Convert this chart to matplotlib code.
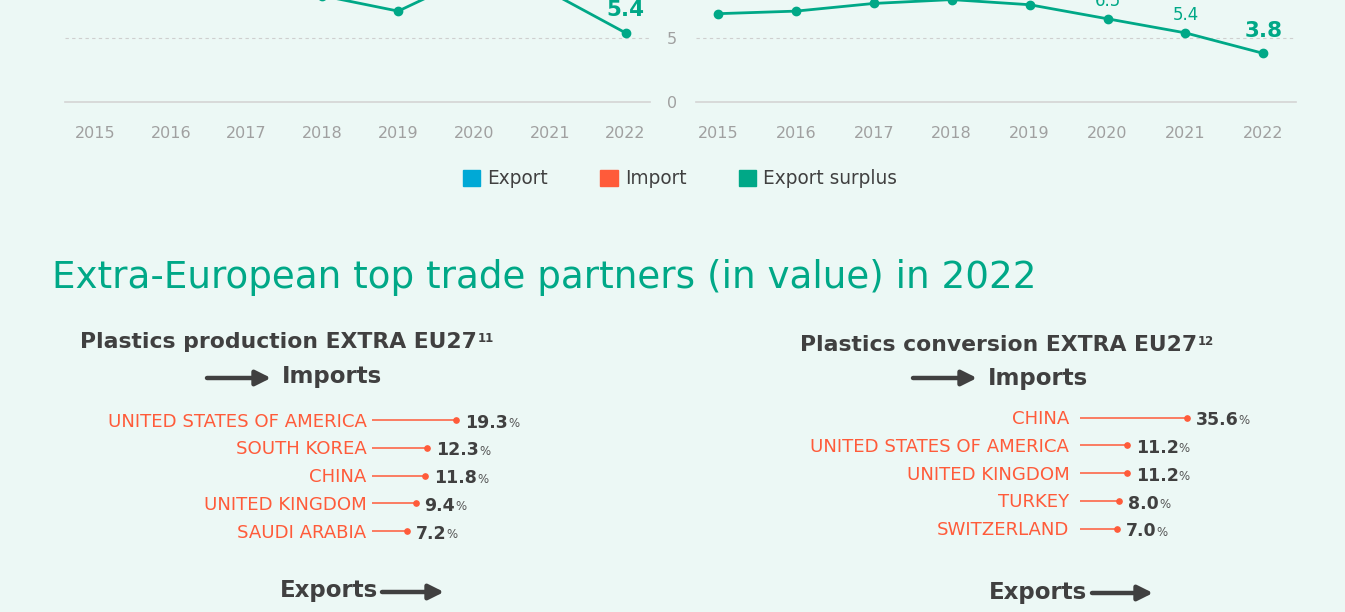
"""
Plastics trade infographic: export surplus lines and top extra-EU partners (2022).
"""

import numpy as np
import matplotlib.pyplot as plt
from matplotlib.patches import Patch, FancyArrowPatch

W, H = 1345, 612
BG = '#ecf8f5'
GREEN = '#00a887'
ORANGE = '#ff5b3a'
BLUE = '#00a9d6'
DARK = '#404040'
GREY = '#a0a0a0'

plt.rcParams['font.family'] = ['DejaVu Sans']

# ---------------------------------------------------------
# data (hidden points estimated)
# ---------------------------------------------------------
years = [2015, 2016, 2017, 2018, 2019, 2020, 2021, 2022]
prod_surplus = [8.7, 9.0, 9.6, 8.3, 7.1, 9.9, 8.6, 5.4]
conv_surplus = [6.9, 7.1, 7.7, 8.0, 7.6, 6.5, 5.4, 3.8]
y_ticks = [0, 5]

legend_labels = ['Export', 'Import', 'Export surplus']
legend_colors = [BLUE, ORANGE, GREEN]

prod_countries = ['UNITED STATES OF AMERICA', 'SOUTH KOREA', 'CHINA',
                  'UNITED KINGDOM', 'SAUDI ARABIA']
prod_shares = [19.3, 12.3, 11.8, 9.4, 7.2]
conv_countries = ['CHINA', 'UNITED STATES OF AMERICA', 'UNITED KINGDOM',
                  'TURKEY', 'SWITZERLAND']
conv_shares = [35.6, 11.2, 11.2, 8.0, 7.0]

fig = plt.figure(figsize=(W / 100, H / 100), dpi=100, facecolor=BG)


def px_axes(x0, y0, x1, y1):
    # axes from a pixel box (y measured from the top)
    return fig.add_axes([x0 / W, 1 - y1 / H, (x1 - x0) / W, (y1 - y0) / H])


ov = px_axes(0, 0, W, H)
ov.set_xlim(0, W)
ov.set_ylim(H, 0)
ov.axis('off')


def size_for(s, width, **kw):
    # font size that gives a text the wanted pixel width
    t = ov.text(0, 0, s, fontsize=10, **kw)
    w = t.get_window_extent(fig.canvas.get_renderer()).width
    t.remove()
    return 10 * width / w


TITLE_FS = size_for('Extra-European top trade partners (in value) in 2022', 983)
HEAD_FS = size_for('Plastics production EXTRA EU27', 396, weight='bold')
FLOW_FS = size_for('Imports', 100, weight='bold')
COUNTRY_FS = size_for('UNITED STATES OF AMERICA', 259)
VALUE_FS = size_for('35.6', 43, weight='bold')
LEGEND_FS = size_for('Export', 61)
TICK_FS = 11.5

# ---------------------------------------------------------
# 1. Export surplus lines
# ---------------------------------------------------------
PX_PER_UNIT = 12.8
TOP, BASE = -150, 102


def line_chart(x0, x1, x_first, x_step, values, show_y):
    ax = px_axes(x0, TOP, x1, BASE)
    ax.set_facecolor('none')
    for s in ax.spines.values():
        s.set_visible(False)
    ax.set_xlim(years[0] - (x_first - x0) / x_step, years[0] + (x1 - x_first) / x_step)
    ax.set_ylim(0, (BASE - TOP) / PX_PER_UNIT)
    ax.axhline(0, color='#d4d4d4', lw=1.2, clip_on=False, zorder=1)
    ax.axhline(5, color='#cfcfcf', lw=0.8, ls=(0, (3, 3)), zorder=1)
    ax.plot(years, values, color=GREEN, lw=2, marker='o', ms=6, zorder=3)
    for i, (x, v) in enumerate(zip(years, values)):
        last = i == len(years) - 1
        ax.annotate(f'{v:.1f}', (x, v), xytext=(0, 12 if last else 9.5),
                    textcoords='offset points', ha='center', va='baseline',
                    fontsize=15.5 if last else 12, weight='bold' if last else 'normal',
                    color=GREEN)
    ax.set_xticks(years)
    ax.tick_params(axis='x', length=0, pad=17, labelsize=TICK_FS, labelcolor=GREY)
    if show_y:
        ax.set_yticks(y_ticks)
        ax.tick_params(axis='y', length=0, pad=13.5, labelsize=TICK_FS, labelcolor=GREY)
    else:
        ax.set_yticks([])
    return ax


line_chart(65, 650, 95, 75.8, prod_surplus, False)
line_chart(696, 1296, 718, 77.9, conv_surplus, True)

handles = [Patch(color=c, label=l) for c, l in zip(legend_colors, legend_labels)]
fig.legend(handles=handles, loc='center', bbox_to_anchor=(680 / W, 1 - 179 / H),
           ncol=3, frameon=False, fontsize=LEGEND_FS, handlelength=0.95,
           handleheight=0.95, handletextpad=0.38, columnspacing=2.8, labelcolor=DARK)

# ---------------------------------------------------------
# 2. Top trade partners
# ---------------------------------------------------------
ov.text(52, 288, 'Extra-European top trade partners (in value) in 2022',
        fontsize=TITLE_FS, color=GREEN, va='baseline')


def heading(x, y, label, note):
    t = ov.text(x, y, label, fontsize=HEAD_FS, weight='bold', color=DARK, va='baseline')
    ov.annotate(note, xy=(1, 1), xycoords=t, xytext=(0.5, 0), textcoords='offset points',
                fontsize=8.5, weight='bold', color=DARK, va='top')


def arrow(x0, x1, y):
    ov.add_patch(FancyArrowPatch((x0, y), (x1, y),
                                 arrowstyle='-|>,head_length=0.9,head_width=0.45',
                                 mutation_scale=10, lw=3.2, color=DARK,
                                 shrinkA=0, shrinkB=0))


def flow_label(x, y, label):
    ov.text(x, y, label, fontsize=FLOW_FS, weight='bold', color=DARK, va='baseline')


def lollipop(x0, x1, row0, countries, shares, scale, stub, gap):
    step = 27.8
    n = len(countries)
    ytop, ybot = row0 - 20, row0 + step * (n - 1) + 20
    ax = px_axes(x0, ytop, x1, ybot)
    ax.axis('off')
    ax.set_xlim(-stub, -stub + (x1 - x0) / scale)
    ax.set_ylim((ybot - row0) / step, (ytop - row0) / step)
    rows = np.arange(n)
    ax.hlines(rows, -stub, shares, color=ORANGE, lw=1.1)
    ax.plot(shares, rows, 'o', color=ORANGE, ms=3.8)
    for r, c, v in zip(rows, countries, shares):
        ax.annotate(c, (-stub, r), xytext=(-gap, -4.7), textcoords='offset points',
                    ha='right', va='baseline', fontsize=COUNTRY_FS, color=ORANGE,
                    annotation_clip=False)
        t = ax.annotate(f'{v:.1f}', (v, r), xytext=(6.5, -5.5), textcoords='offset points',
                        ha='left', va='baseline', fontsize=VALUE_FS, weight='bold',
                        color=DARK, annotation_clip=False)
        ax.annotate('%', xy=(1, 0), xycoords=t, xytext=(0, 1.2), textcoords='offset points',
                    ha='left', va='bottom', fontsize=8.5, color='#555555')


heading(80, 348, 'Plastics production EXTRA EU27', '11')
arrow(207, 271, 378)
flow_label(282, 383, 'Imports')
lollipop(372, 560, 420, prod_countries, prod_shares, 4.1, 1.22, 4)
flow_label(280, 597, 'Exports')
arrow(382, 444, 592)

heading(800, 351, 'Plastics conversion EXTRA EU27', '12')
arrow(913, 977, 378)
flow_label(988, 385, 'Imports')
lollipop(1080, 1300, 417.5, conv_countries, conv_shares, 2.45, 7.96, 7.7)
flow_label(989, 599, 'Exports')
arrow(1092, 1153, 593)

fig.savefig('out.png', dpi=100, facecolor=BG)
